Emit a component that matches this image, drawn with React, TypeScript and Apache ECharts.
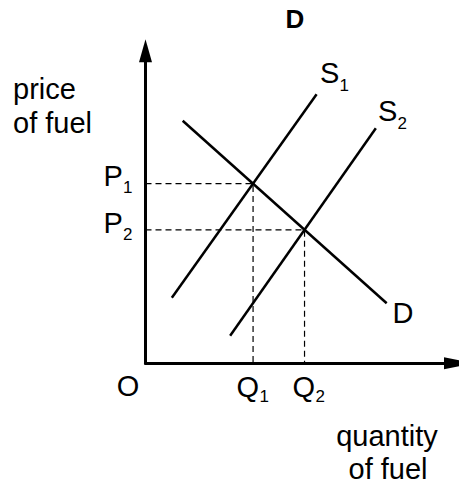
import React, { useEffect, useRef } from "react";
import * as echarts from "echarts";

// Data (value space 0..10 on both axes)
const demand: [number, number][] = [[1.2, 7.76], [7.78, 1.92]];
const supply1: [number, number][] = [[0.85, 2.1], [5.52, 8.61]];
const supply2: [number, number][] = [[2.73, 0.88], [7.43, 7.52]];
const quantities = [3.47, 5.13]; // Q1, Q2
const prices = [5.75, 4.27]; // P1, P2

const FONT = '"Liberation Sans", Arial, Helvetica, sans-serif';

function txt(text: string, x: number, y: number, size: number, align = "left", weight = "normal") {
  return {
    type: "text",
    x,
    y,
    style: {
      text,
      fill: "#000",
      fontSize: size,
      fontFamily: FONT,
      fontWeight: weight,
      align,
      textAlign: align,
      verticalAlign: "middle",
      textVerticalAlign: "middle",
    },
  };
}

export default function App() {
  const ref = useRef<HTMLDivElement>(null);
  useEffect(() => {
    if (!ref.current) return;
    const chart = echarts.init(ref.current, undefined, { renderer: "svg" });
    const solid = { color: "#000", width: 2.5 };
    const dashed = { color: "#000", width: 1.2, type: [6, 4] as any };
    const dashSeries = quantities.map((q, i) => ({
      type: "line",
      data: [[0, prices[i]], [q, prices[i]], [q, 0]],
      showSymbol: false,
      lineStyle: dashed,
      silent: true,
    }));
    chart.setOption({
      animation: false,
      grid: { left: 145.5, top: 50.8, right: 3.5, bottom: 121.7 },
      xAxis: {
        type: "value",
        min: 0,
        max: 10,
        axisLine: {
          show: true,
          symbol: ["none", "triangle"],
          symbolSize: [12, 30],
          symbolOffset: [0, 3.5],
          lineStyle: { color: "#000", width: 3 },
        },
        axisTick: { show: false },
        axisLabel: { show: false },
        splitLine: { show: false },
      },
      yAxis: {
        type: "value",
        min: 0,
        max: 10,
        axisLine: {
          show: true,
          symbol: ["none", "triangle"],
          symbolSize: [13, 23],
          lineStyle: { color: "#000", width: 3 },
        },
        axisTick: { show: false },
        axisLabel: { show: false },
        splitLine: { show: false },
      },
      series: [
        ...dashSeries,
        { type: "line", data: demand, showSymbol: false, lineStyle: solid, silent: true },
        { type: "line", data: supply1, showSymbol: false, lineStyle: solid, silent: true },
        { type: "line", data: supply2, showSymbol: false, lineStyle: solid, silent: true },
      ],
      graphic: [
        txt("D", 295, 18.5, 26, "center", "bold"),
        txt("price", 13, 88.6, 29),
        txt("of fuel", 13, 122.6, 29),
        txt("quantity", 387, 436, 29, "center"),
        txt("of fuel", 388, 468.5, 29, "center"),
        txt("O", 128, 386, 29, "center"),
        txt("P", 103.5, 176, 29),
        txt("1", 123, 187, 17),
        txt("P", 103.5, 223, 29),
        txt("2", 123, 234, 17),
        txt("Q", 236.5, 386.5, 29),
        txt("1", 259.5, 396, 17),
        txt("Q", 292.5, 386.5, 29),
        txt("2", 315.5, 396, 17),
        txt("S", 320, 73, 29),
        txt("1", 339.5, 85, 17),
        txt("S", 378, 110.5, 29),
        txt("2", 397.5, 123, 17),
        txt("D", 392.5, 313, 29),
      ],
    });
    return () => chart.dispose();
  }, []);
  return (
    <div
      ref={ref}
      style={{ position: "absolute", left: 0, top: 0, width: 459, height: 485, background: "#fff" }}
    />
  );
}
